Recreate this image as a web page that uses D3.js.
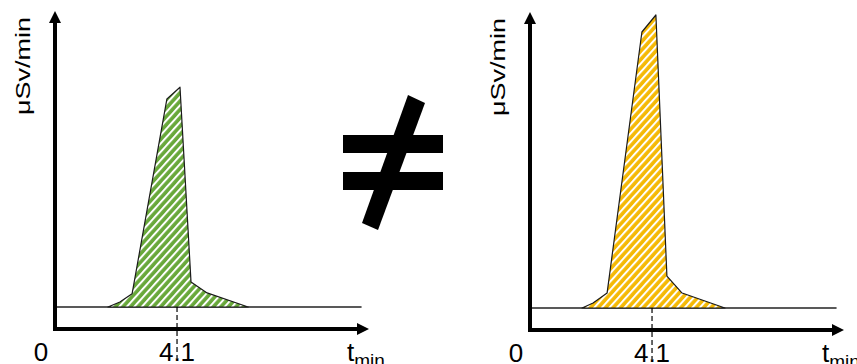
<!DOCTYPE html>
<html>
<head>
<meta charset="utf-8">
<script src="https://cdn.jsdelivr.net/npm/d3@7"></script>
<style>
    html, body { margin: 0; padding: 0; background: #fff; }
    #chart { width: 857px; height: 364px; }
    text { font-family: "Liberation Sans", Arial, sans-serif; fill: #000; }
</style>
</head>
<body>
<div id="chart"></div>
<script>
// dose-rate curves (minutes, relative µSv/min)
const leftTimes = [1.78, 2.18, 2.59, 3.76, 4.2, 4.57, 5.11, 6.49];
const leftValues = [0, 1.7, 4.5, 71, 75, 8.5, 4.8, 0];
const rightTimes = [1.75, 2.12, 2.59, 3.76, 4.23, 4.6, 5.11, 6.55];
const rightValues = [0, 1.7, 5.1, 94.2, 100, 10.9, 5.1, 0];

const peakTime = 4.1;
const tickLabels = ["0", "4.1"];
const yLabel = "μSv/min";
const xLabel = "t";
const xLabelSub = "min";

const width = 857;
const height = 364;

const svg = d3.select("#chart")
    .append("svg")
    .attr("width", width)
    .attr("height", height);

const defs = svg.append("defs");

function makeHatch(id, color) {
    const p = defs.append("pattern")
        .attr("id", id)
        .attr("patternUnits", "userSpaceOnUse")
        .attr("width", 5.6)
        .attr("height", 5.6)
        .attr("patternTransform", "rotate(42)");
    p.append("rect")
        .attr("width", 5.6)
        .attr("height", 5.6)
        .attr("fill", color);
    p.append("rect")
        .attr("x", 0)
        .attr("width", 2)
        .attr("height", 5.6)
        .attr("fill", "#fff");
}
makeHatch("hatchGreen", "#68a83a");
makeHatch("hatchGold", "#f5b905");

// both panels share the same scales
const x = d3.scaleLinear().domain([0, 10.55]).range([0, 314]);
const y = d3.scaleLinear().domain([0, 100]).range([307, 14]);
const axisY = 329;

function drawPanel(offX, offY, times, values, fillId) {
    const data = times.map((t, i) => ({ t: t, v: values[i] }));
    const g = svg.append("g")
        .attr("transform", "translate(" + offX + "," + offY + ")");

    // thin baseline
    g.append("line")
        .attr("x1", 0)
        .attr("x2", x(10.3))
        .attr("y1", y(0))
        .attr("y2", y(0))
        .attr("stroke", "#222")
        .attr("stroke-width", 1.3);

    const area = d3.area()
        .x((d) => x(d.t))
        .y0(y(0))
        .y1((d) => y(d.v));

    g.append("path")
        .datum(data)
        .attr("d", area)
        .attr("fill", "url(#" + fillId + ")")
        .attr("stroke", "#1a1a1a")
        .attr("stroke-width", 1.2)
        .attr("stroke-linejoin", "round");

    // dashed marker at the peak time
    g.append("line")
        .attr("x1", x(peakTime))
        .attr("x2", x(peakTime))
        .attr("y1", y(0))
        .attr("y2", 358)
        .attr("stroke", "#000")
        .attr("stroke-width", 1.2)
        .attr("stroke-dasharray", "5,3");

    // axes with arrow heads
    g.append("line")
        .attr("x1", 0)
        .attr("x2", 0)
        .attr("y1", axisY + 2)
        .attr("y2", 22)
        .attr("stroke", "#000")
        .attr("stroke-width", 4);
    g.append("path")
        .attr("d", "M-6,23 L0,11 L6,23 Z")
        .attr("fill", "#000");

    g.append("line")
        .attr("x1", -2)
        .attr("x2", x(10.55) - 10)
        .attr("y1", axisY)
        .attr("y2", axisY)
        .attr("stroke", "#000")
        .attr("stroke-width", 4);
    g.append("path")
        .attr("d", "M" + (x(10.55) - 12) + "," + (axisY - 6) +
            " L" + x(10.55) + "," + axisY +
            " L" + (x(10.55) - 12) + "," + (axisY + 6) + " Z")
        .attr("fill", "#000");

    // tick labels
    g.append("text")
        .attr("x", -14)
        .attr("y", 361)
        .attr("text-anchor", "middle")
        .style("font-size", "26px")
        .text(tickLabels[0]);
    g.append("text")
        .attr("x", x(peakTime))
        .attr("y", 361)
        .attr("text-anchor", "middle")
        .style("font-size", "26px")
        .text(tickLabels[1]);

    const tl = g.append("text")
        .attr("x", x(10.55) - 22)
        .attr("y", 361)
        .style("font-size", "26px");
    tl.append("tspan").text(xLabel);
    tl.append("tspan")
        .attr("dy", 6)
        .style("font-size", "19px")
        .text(xLabelSub);

    g.append("text")
        .attr("transform", "translate(-25,66) rotate(-90)")
        .attr("text-anchor", "middle")
        .attr("textLength", 98)
        .attr("lengthAdjust", "spacingAndGlyphs")
        .style("font-size", "21px")
        .text(yLabel);
}

drawPanel(55, 0, leftTimes, leftValues, "hatchGreen");
drawPanel(530, 1, rightTimes, rightValues, "hatchGold");

// not-equal sign between the panels
const ne = svg.append("g").attr("transform", "translate(393,162)");
ne.append("rect").attr("x", -50).attr("y", -27).attr("width", 100).attr("height", 18).attr("fill", "#000");
ne.append("rect").attr("x", -50).attr("y", 10).attr("width", 100).attr("height", 18).attr("fill", "#000");
ne.append("path")
    .attr("d", "M15,-67 L32,-59 L-15,68 L-31,61 Z")
    .attr("fill", "#000");
</script>
</body>
</html>
